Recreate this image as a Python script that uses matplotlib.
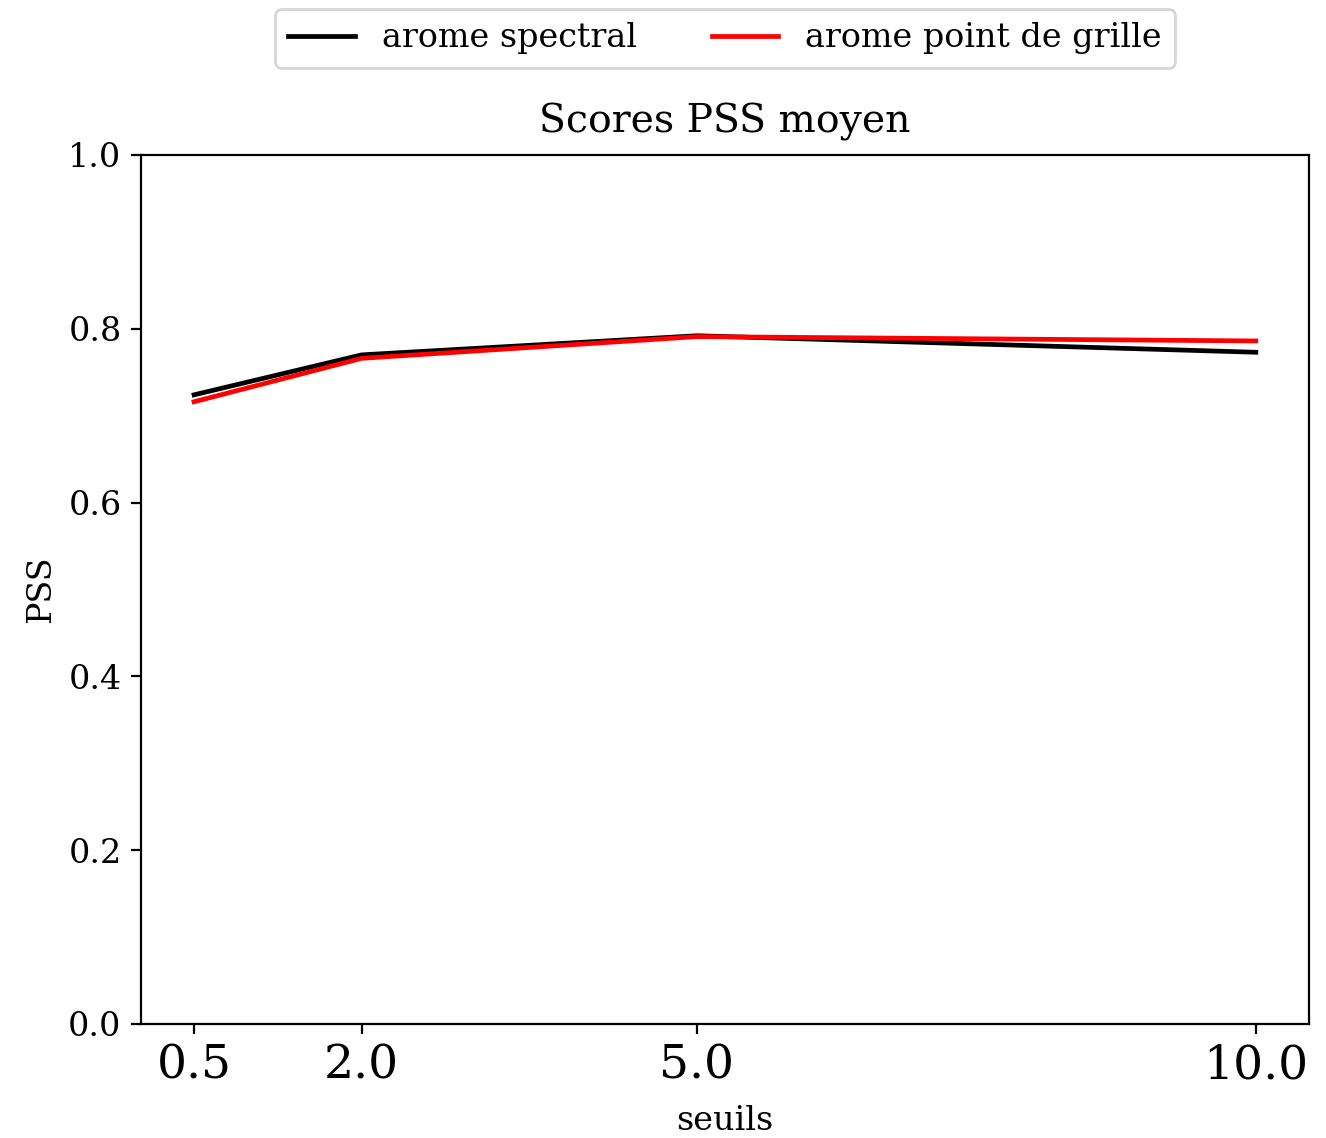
import matplotlib
matplotlib.use("Agg")
import matplotlib.pyplot as plt

seuils = [0.5, 2.0, 5.0, 10.0]
pss_spectral = [0.724, 0.770, 0.792, 0.773]
pss_grille = [0.716, 0.766, 0.791, 0.786]

plt.rcParams['font.family'] = ['DejaVu Serif']

fig = plt.figure(figsize=(6.63, 5.69), dpi=200)
ax = fig.add_axes([0.1063, 0.1002, 0.8808, 0.7636])

ax.plot(seuils, pss_spectral, color='black', lw=1.7, label='arome spectral')
ax.plot(seuils, pss_grille, color='red', lw=1.7, label='arome point de grille')

ax.set_ylim(0, 1.0)
ax.set_xticks(seuils)
ax.set_xticklabels([f"{s:.1f}" for s in seuils], fontsize=17)
ax.tick_params(axis='y', labelsize=12)
ax.set_xlabel('seuils', fontsize=12, labelpad=6)
ax.set_ylabel('PSS', fontsize=12)
ax.set_title('Scores PSS moyen', fontsize=14.2, pad=8)

ax.legend(loc='upper center', bbox_to_anchor=(0.5, 1.187), ncol=2, fontsize=12,
          handlelength=2.0, columnspacing=2.25)

fig.savefig('out.png', dpi=200)
